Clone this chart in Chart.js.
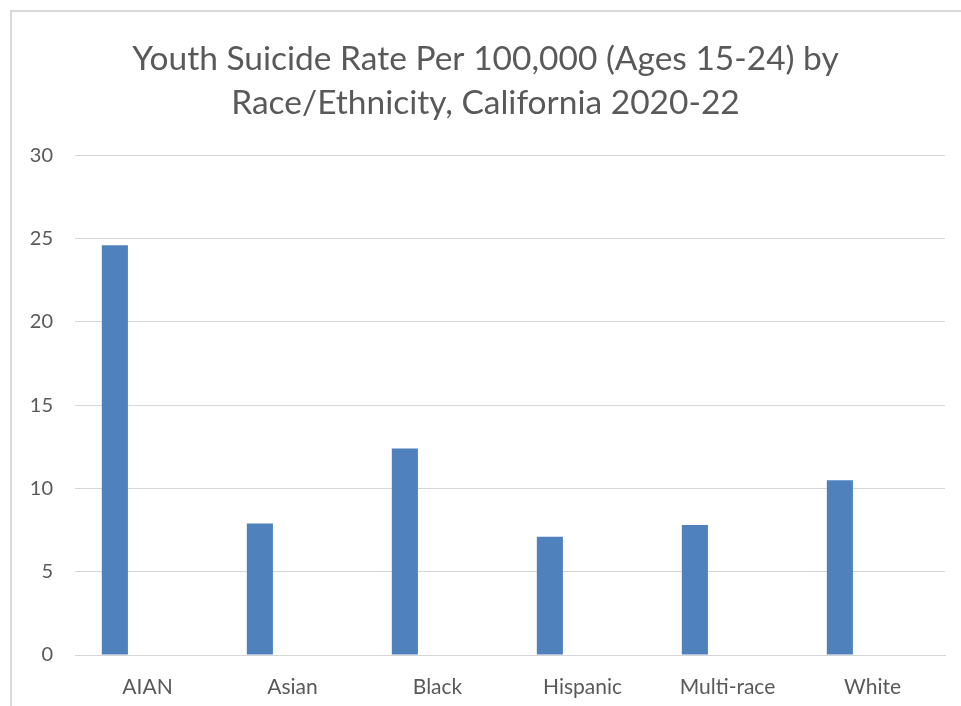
<!DOCTYPE html>
<html lang="en">
<head>
    <meta charset="UTF-8">
    <script src="https://cdn.jsdelivr.net/npm/chart.js@4.4.6/dist/chart.umd.min.js"></script>
    <title>Youth Suicide Rate</title>
    <style>
        body { margin: 0; background: #fff; }
        #wrap { position: relative; width: 961px; height: 706px; overflow: hidden; }
        #frame {
            position: absolute; left: 10px; top: 10px; width: 1000px; height: 800px;
            border-left: 2px solid #d9d9d9; border-top: 2px solid #d9d9d9;
        }
        #chart { position: absolute; left: 0; top: 0; }
    </style>
</head>
<body>
    <div id="wrap">
        <div id="frame"></div>
        <canvas id="chart" width="961" height="706"></canvas>
    </div>

    <script>
        // values
        const categories = ["AIAN", "Asian", "Black", "Hispanic", "Multi-race", "White"]
        const rates = [24.6, 7.9, 12.4, 7.1, 7.8, 10.5]
        const blankSeries = [null, null, null, null, null, null] // empty second column in the source sheet
        const yTicks = [0, 5, 10, 15, 20, 25, 30]

        const barBlue = "#4f81bd"
        const textGrey = "#595959"
        const gridGrey = "#d6d6d6"
        const font = "Lato, 'Open Sans', sans-serif"

        new Chart(document.getElementById("chart"), {
            type: 'bar',
            data: {
                labels: categories,
                datasets: [
                    { label: "Rate", data: rates, backgroundColor: barBlue, categoryPercentage: 0.9, barPercentage: 0.4 },
                    { label: "", data: blankSeries, backgroundColor: barBlue, categoryPercentage: 0.9, barPercentage: 0.4 }
                ]
            },
            options: {
                responsive: false,
                animation: false,
                // some left padding so the title sits a bit further right, like the original
                layout: { padding: { left: 26, right: 16, top: 0, bottom: 0 } },
                scales: {
                    x: {
                        grid: { display: false },
                        border: { color: gridGrey, width: 1 },
                        ticks: { color: textGrey, font: { family: font, size: 21 }, padding: 12 },
                        afterFit: s => { s.height = 51 }
                    },
                    y: {
                        min: 0,
                        max: 30,
                        afterBuildTicks: s => { s.ticks = yTicks.map(v => ({ value: v })) },
                        grid: { color: gridGrey, lineWidth: 1, drawTicks: false },
                        border: { display: false },
                        ticks: { color: textGrey, font: { family: font, size: 20 }, padding: 22 },
                        afterFit: s => { s.width = 49 }
                    }
                },
                plugins: {
                    legend: { display: false },
                    tooltip: { enabled: false },
                    title: {
                        display: true,
                        text: ["Youth Suicide Rate Per 100,000 (Ages 15-24) by", "Race/Ethnicity, California 2020-22"],
                        color: textGrey,
                        font: { family: font, size: 33.5, weight: 'normal', lineHeight: 1.29 },
                        padding: { top: 38, bottom: 31 }
                    }
                }
            }
        });
    </script>
</body>
</html>
